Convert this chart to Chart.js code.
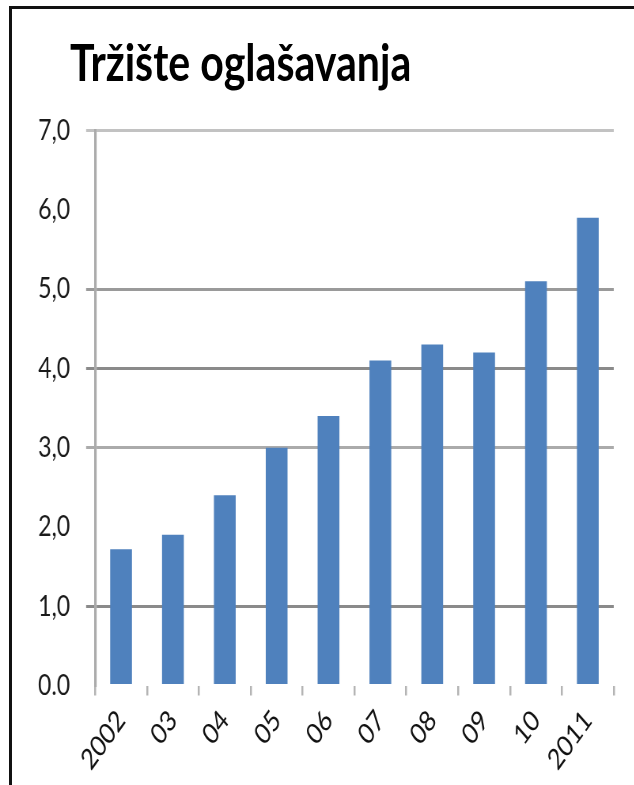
<!DOCTYPE html>
<html>
<head>
<meta charset="utf-8">
<title>Tržište oglašavanja</title>
<script src="https://cdn.jsdelivr.net/npm/chart.js@4.4.1/dist/chart.umd.min.js"></script>
<style>
  html, body { margin: 0; padding: 0; background: #fff; overflow: hidden; }
  #frame {
    position: absolute; left: 9px; top: 6px; right: -10px; bottom: -10px;
    border-left: 3px solid #111; border-top: 3px solid #111;
    pointer-events: none; z-index: 2;
  }
  /* chart is laid out wide and squeezed horizontally, like the narrow office font */
  #wrap {
    position: absolute; left: 0; top: 0;
    width: 802.5px; height: 785px;
    transform: scaleX(0.79); transform-origin: 0 0;
  }
  #chartBox { position: absolute; left: 0; top: 0; width: 100%; height: 100%; }
  #chartTitle {
    position: absolute; left: 88.6px; top: 35px; margin: 0;
    font: bold 52px/52px Lato, "Open Sans", sans-serif;
    color: #000; white-space: nowrap;
  }
</style>
</head>
<body>
<div id="wrap">
  <div id="chartBox"><canvas id="mainChart"></canvas></div>
  <h1 id="chartTitle">Tržište oglašavanja</h1>
</div>
<div id="frame"></div>

<script>
// === DATA ===
const years = ['2002', '03', '04', '05', '06', '07', '08', '09', '10', '2011'];
const marketValues = [1.72, 1.9, 2.4, 3.0, 3.4, 4.1, 4.3, 4.2, 5.1, 5.9];
const yTickLabels = ['0.0', '1,0', '2,0', '3,0', '4,0', '5,0', '6,0', '7,0'];

const SX = 0.79; // horizontal squeeze of #wrap

// gridline shades per value (some lines are not drawn)
const gridShade = { 1: '#8a8a8a', 3: '#ababab', 4: '#8a8a8a', 5: '#9a9a9a', 7: '#c2c2c2' };

Chart.defaults.font.family = 'Lato, "Open Sans", sans-serif';
Chart.defaults.color = '#1a1a1a';

const ctx = document.getElementById('mainChart').getContext('2d');

new Chart(ctx, {
  type: 'bar',
  data: {
    labels: years,
    datasets: [{
      data: marketValues,
      backgroundColor: '#4f81bd',
      borderWidth: 0,
      barPercentage: 0.42,
      categoryPercentage: 1
    }]
  },
  options: {
    responsive: true,
    maintainAspectRatio: false,
    animation: false,
    layout: { padding: { left: 26 / SX, right: 21 / SX, top: 130.5, bottom: 0 } },
    plugins: {
      legend: { display: false },
      tooltip: { enabled: false },
      title: { display: false }
    },
    scales: {
      x: {
        grid: {
          offset: true,
          drawOnChartArea: false,
          tickLength: 10,
          color: '#b4b4b4',
          lineWidth: 2.5
        },
        border: { display: false },
        ticks: {
          autoSkip: false,
          minRotation: 48,
          maxRotation: 48,
          padding: 8,
          color: '#111',
          font: { size: 29 }
        },
        afterFit: (scale) => {
          scale.height = 99.5;
          scale.paddingLeft = 0;
          scale.paddingRight = 0;
        }
      },
      y: {
        min: 0,
        max: 7,
        ticks: {
          stepSize: 1,
          padding: 20.3,
          color: '#1a1a1a',
          font: { size: 29 },
          callback: (value) => yTickLabels[value]
        },
        grid: {
          tickLength: 9 / SX,
          lineWidth: 3,
          color: (c) => gridShade[c.tick ? c.tick.value : -1] || 'rgba(0,0,0,0)'
        },
        border: { display: true, color: '#ababab', width: 2.5 / SX },
        afterFit: (scale) => {
          scale.width = (95 - 26) / SX;
          scale.paddingTop = 0;
          scale.paddingBottom = 0;
        }
      }
    }
  }
});
</script>
</body>
</html>
